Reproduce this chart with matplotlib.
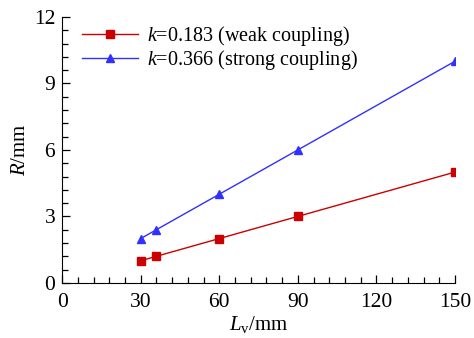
import matplotlib
matplotlib.use("Agg")
import matplotlib.pyplot as plt
from matplotlib.ticker import MultipleLocator

plt.rcParams["font.family"] = "Liberation Serif"
plt.rcParams["mathtext.fontset"] = "custom"
plt.rcParams["mathtext.rm"] = "Liberation Serif"
plt.rcParams["mathtext.it"] = "Liberation Serif:italic"

# data
lv = [30, 36, 60, 90, 150]
r_weak = [1.0, 1.2, 2.0, 3.0, 5.0]
r_strong = [2.0, 2.4, 4.0, 6.0, 10.0]
RED = "#CC0000"; BLUE = "#3030FF"

fig = plt.figure(figsize=(4.74, 3.38), dpi=100)
ax = fig.add_axes([0.131, 0.163, 0.829, 0.787])
ax.plot(lv, r_weak, color=RED, lw=1.0, marker="s", ms=5.5, label=r"$k$=0.183 (weak coupling)")
ax.plot(lv, r_strong, color=BLUE, lw=1.0, marker="^", ms=6, label=r"$k$=0.366 (strong coupling)")

ax.set_xlim(0, 150); ax.set_ylim(0, 12)
ax.xaxis.set_major_locator(MultipleLocator(30)); ax.xaxis.set_minor_locator(MultipleLocator(6))
ax.yaxis.set_major_locator(MultipleLocator(3)); ax.yaxis.set_minor_locator(MultipleLocator(0.6))
ax.spines["top"].set_visible(False); ax.spines["right"].set_visible(False)
ax.tick_params(which="both", direction="in", labelsize=15.5, width=0.9)
ax.tick_params(which="major", length=6)
ax.tick_params(which="minor", length=4)
ax.tick_params(axis="x", pad=7)
ax.tick_params(axis="y", pad=5)
ax.set_xlabel(r"$L_\mathregular{v}$/mm", fontsize=15, labelpad=2)
ax.set_ylabel(r"$R$/mm", fontsize=15, labelpad=3)
ax.legend(loc="upper left", bbox_to_anchor=(0.025, 1.01), frameon=False, fontsize=14.5,
          handlelength=2.8, handletextpad=0.45, borderaxespad=0.1, labelspacing=0.0)
fig.savefig("out.png", dpi=100)
